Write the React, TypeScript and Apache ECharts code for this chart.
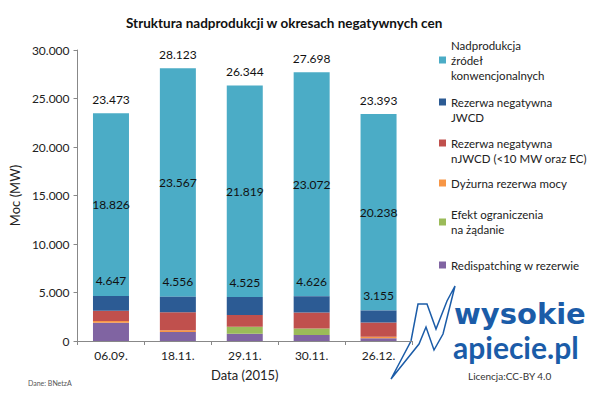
import React, { useEffect, useRef } from "react";
import * as echarts from "echarts";

const categories = ["06.09.", "18.11.", "29.11.", "30.11.", "26.12."];
const redispatching = [1870, 920, 740, 610, 280];
const efektOgraniczenia = [0, 0, 720, 690, 0];
const dyzurnaRezerwa = [200, 200, 0, 0, 160];
const rezerwaNJWCD = [1060, 1840, 1230, 1630, 1470];
const rezerwaJWCD = [1517, 1596, 1835, 1696, 1245];
const nadprodukcja = [18826, 23567, 21819, 23072, 20238];

const seriesNames = [
  "Nadprodukcja źródeł konwencjonalnych",
  "Rezerwa negatywna JWCD",
  "Rezerwa negatywna nJWCD (<10 MW oraz EC)",
  "Dyżurna rezerwa mocy",
  "Efekt ograniczenia na żądanie",
  "Redispatching w rezerwie",
];
const legendLines = [
  ["Nadprodukcja", "źródeł", "konwencjonalnych"],
  ["Rezerwa negatywna", "JWCD"],
  ["Rezerwa negatywna", "nJWCD (<10 MW oraz EC)"],
  ["Dyżurna rezerwa mocy"],
  ["Efekt ograniczenia", "na żądanie"],
  ["Redispatching w rezerwie"],
];
const colors = ["#4bacc6", "#2c5b94", "#c0504d", "#f79646", "#9bbb59", "#8064a2"];

const fmt = (v: number) =>
  v >= 1000 ? Math.floor(v / 1000) + "." + String(Math.round(v % 1000)).padStart(3, "0") : String(v);

const lowerSums = categories.map(
  (_, i) => redispatching[i] + efektOgraniczenia[i] + dyzurnaRezerwa[i] + rezerwaNJWCD[i] + rezerwaJWCD[i]
);
const totals = categories.map((_, i) => lowerSums[i] + nadprodukcja[i]);

const FONT = "Lato";

export default function App() {
  const ref = useRef<HTMLDivElement>(null);
  useEffect(() => {
    document.body.style.margin = "0";
    if (!ref.current) return;
    const chart = echarts.init(ref.current, undefined, { renderer: "svg" });

    const legendTops = [45, 102, 143, 183, 214, 265];
    const markerOffsets = [15, 0, 0, 0, 8, 0];
    const legendGraphics: any[] = [];
    legendLines.forEach((lines, i) => {
      legendGraphics.push({
        type: "rect",
        shape: { x: 439, y: legendTops[i] + markerOffsets[i] - 3.5, width: 7, height: 7 },
        style: { fill: colors[i] },
      });
      lines.forEach((ln, j) => {
        legendGraphics.push({
          type: "text",
          x: 451,
          y: legendTops[i] + j * 15,
          style: {
            text: ln,
            font: `11.5px ${FONT}`,
            fill: "#222",
            textVerticalAlign: "middle",
          },
        });
      });
    });

    const logoBlue = "#1b5ca8";
    const stackSeries = [
      { name: seriesNames[5], data: redispatching, color: colors[5] },
      { name: seriesNames[4], data: efektOgraniczenia, color: colors[4] },
      { name: seriesNames[3], data: dyzurnaRezerwa, color: colors[3] },
      { name: seriesNames[2], data: rezerwaNJWCD, color: colors[2] },
    ].map((s) => ({
      type: "bar",
      name: s.name,
      stack: "a",
      data: s.data,
      barWidth: 36,
      itemStyle: { color: s.color },
    }));

    chart.setOption({
      animation: false,
      title: {
        text: "Struktura nadprodukcji w okresach negatywnych cen",
        left: 121,
        top: 11,
        textStyle: { fontFamily: FONT, fontWeight: "bold", fontSize: 13.5, color: "#111" },
      },
      grid: { left: 70, right: 188, top: 50, bottom: 53 },
      xAxis: {
        type: "category",
        data: categories,
        name: "Data (2015)",
        nameLocation: "middle",
        nameGap: 27,
        nameTextStyle: { fontFamily: FONT, fontSize: 13, color: "#222" },
        axisLine: { lineStyle: { color: "#888" } },
        axisTick: { show: true, length: 4, lineStyle: { color: "#888" } },
        axisLabel: { fontFamily: FONT, fontSize: 12, color: "#222", margin: 8 },
      },
      yAxis: {
        type: "value",
        min: 0,
        max: 30000,
        interval: 5000,
        name: "Moc (MW)",
        nameLocation: "middle",
        nameGap: 56,
        nameRotate: 90,
        nameTextStyle: { fontFamily: FONT, fontSize: 13, color: "#222" },
        axisLine: { show: true, lineStyle: { color: "#888" } },
        axisTick: { show: true, length: 4, lineStyle: { color: "#888" } },
        splitLine: { show: false },
        axisLabel: { fontFamily: FONT, fontSize: 12, color: "#222", margin: 8, formatter: (v: number) => fmt(v) },
      },
      series: [
        ...stackSeries,
        {
          type: "bar",
          name: seriesNames[1],
          stack: "a",
          z: 3,
          data: rezerwaJWCD,
          barWidth: 36,
          itemStyle: { color: colors[1] },
          label: {
            show: true,
            position: "top",
            distance: 9,
            fontFamily: FONT,
            fontSize: 12,
            color: "#111",
            formatter: (p: any) => fmt(lowerSums[p.dataIndex]),
          },
        },
        {
          type: "bar",
          name: seriesNames[0],
          stack: "a",
          data: nadprodukcja,
          barWidth: 36,
          itemStyle: { color: colors[0] },
          label: {
            show: true,
            position: "inside",
            fontFamily: FONT,
            fontSize: 12,
            color: "#111",
            formatter: (p: any) => fmt(p.value),
          },
        },
        {
          type: "bar",
          name: "Suma",
          data: totals,
          barWidth: 36,
          barGap: "-100%",
          z: 4,
          itemStyle: { color: "rgba(0,0,0,0)" },
          label: {
            show: true,
            position: "top",
            distance: 8,
            fontFamily: FONT,
            fontSize: 12,
            color: "#111",
            formatter: (p: any) => fmt(p.value),
          },
        },
      ],
      graphic: [
        ...legendGraphics,
        {
          type: "polygon",
          shape: {
            points: [
              [391, 379],
              [411, 341],
              [418, 304],
              [427, 304],
              [436, 329],
              [447, 301],
              [455, 286],
              [443, 334],
              [434, 350],
              [426, 327],
              [419, 344],
            ],
          },
          style: { fill: "none", stroke: logoBlue, lineWidth: 1.5 },
        },
        {
          type: "text",
          x: 454,
          y: 314,
          style: {
            text: "wysokie",
            font: `bold 29px "DejaVu Sans"`,
            fill: logoBlue,
            textVerticalAlign: "middle",
          },
        },
        {
          type: "text",
          x: 453,
          y: 347,
          style: {
            text: "apiecie.pl",
            font: `bold 30px ${FONT}`,
            fill: logoBlue,
            textVerticalAlign: "middle",
          },
        },
        {
          type: "text",
          x: 468,
          y: 376,
          style: { text: "Licencja:CC-BY 4.0", font: `10px ${FONT}`, fill: "#333", textVerticalAlign: "middle" },
        },
        {
          type: "text",
          x: 28,
          y: 383,
          style: { text: "Dane: BNetzA", font: `7px ${FONT}`, fill: "#555", textVerticalAlign: "middle" },
        },
      ],
    });
    return () => chart.dispose();
  }, []);
  return <div ref={ref} style={{ width: 600, height: 394 }} />;
}
